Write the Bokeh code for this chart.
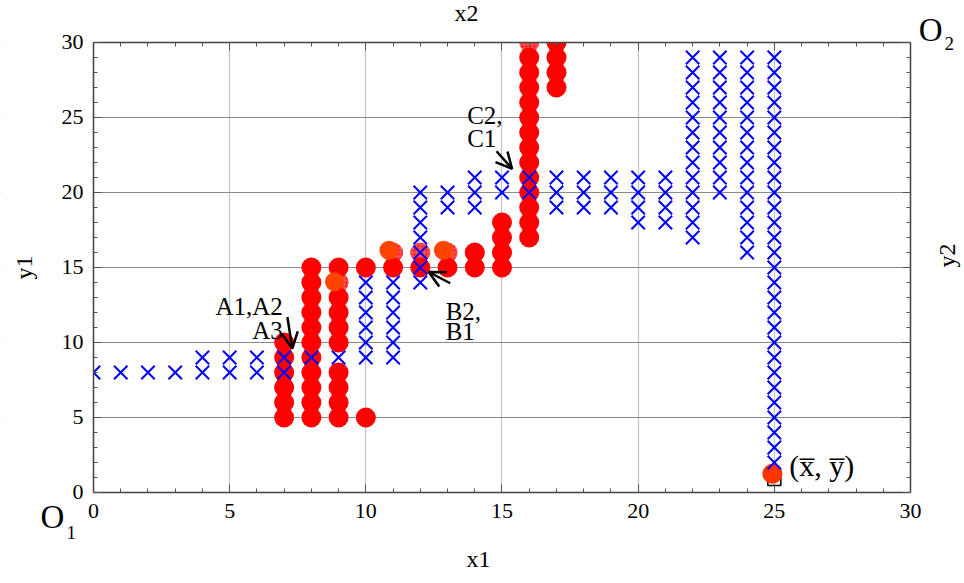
import math
from bokeh.plotting import figure
from bokeh.models import (Range1d, LinearAxis, SingleIntervalTicker, Arrow, OpenHead,
                          Label, CustomJSTickFormatter, Grid, BoxAnnotation)
from bokeh.embed import file_html
from bokeh.resources import INLINE

# ---------------- data ----------------
# blue crosses: one list of y values per x column
blue_cols = [0, 1, 2, 3, 4, 5, 6, 7, 8, 9, 10, 11, 12, 13, 14, 15, 16, 17, 18, 19, 20, 21, 22, 23, 24, 25]
blue_rows = [
    [8], [8], [8], [8], [8, 9], [8, 9], [8, 9], [8, 9], [9], [9],
    [9, 10, 11, 12, 13, 14],
    [9, 10, 11, 12, 13, 14],
    [14, 15, 16, 17, 18, 19, 20],
    [19, 20],
    [19, 20, 21],
    [20, 21],
    [20, 21],
    [19, 20, 21],
    [19, 20, 21],
    [19, 20, 21],
    [18, 19, 20, 21],
    [18, 19, 20, 21],
    [17, 18, 19, 20, 21, 22, 23, 24, 25, 26, 27, 28, 29],
    [20, 21, 22, 23, 24, 25, 26, 27, 28, 29],
    [16, 17, 18, 19, 20, 21, 22, 23, 24, 25, 26, 27, 28, 29],
    [2, 3, 4, 5, 6, 7, 8, 9, 10, 11, 12, 13, 14, 15, 16, 17, 18, 19, 20, 21, 22, 23, 24, 25, 26, 27, 28, 29],
]

# red circles: one list of y values per x column
red_cols = [7, 8, 9, 10, 11, 12, 13, 14, 15, 16, 17]
red_rows = [
    [5, 6, 7, 8, 9, 10],
    [5, 6, 7, 8, 9, 10, 11, 12, 13, 14, 15],
    [5, 6, 7, 8, 10, 11, 12, 13, 15],
    [5, 15],
    [15],
    [15],
    [15],
    [15, 16],
    [15, 16, 17, 18],
    [17, 18, 19, 20, 21, 22, 23, 24, 25, 26, 27, 28, 29],
    [27, 28, 29, 30],
]

# shaded (dithered) red circles
shade_x = [9, 11, 12, 13, 16]
shade_y = [14, 16, 16, 16, 30]

# orange circles
orange_x = [8.85, 10.85, 12.85]
orange_y = [14.05, 16.15, 16.15]

# mean point and its box
mean_x = [24.93]
mean_y = [1.25]
box_x = [25.0]
box_y = [0.9]

AX_MIN, AX_MAX = 0, 30

bx, by = [], []
for c, rows in zip(blue_cols, blue_rows):
    for r in rows:
        bx.append(c)
        by.append(r)
rx, ry = [], []
for c, rows in zip(red_cols, red_rows):
    for r in rows:
        rx.append(c)
        ry.append(r)

SERIF = "Liberation Serif"
W, H = 964, 580

# the plotting frame fills the canvas; the framed box 0..30 sits inside it
p = figure(width=W, height=H, output_backend="svg", toolbar_location=None,
           x_range=Range1d(-3.415, 31.983), y_range=Range1d(-5.867, 32.8),
           x_axis_location=None, y_axis_location=None,
           min_border_left=0, min_border_right=0, min_border_top=0, min_border_bottom=0)
p.background_fill_color = "white"
p.border_fill_color = "white"
p.outline_line_color = None
p.xgrid.grid_line_color = None
p.ygrid.grid_line_color = None

p.add_layout(Grid(dimension=0, ticker=SingleIntervalTicker(interval=5),
                  grid_line_color="#c4c4c4", grid_line_width=1.2))
p.add_layout(Grid(dimension=1, ticker=SingleIntervalTicker(interval=5),
                  grid_line_color="#8a8a8a", grid_line_width=1.2))


def make_axis(side, label, show_labels, label_standoff, major_standoff, loc):
    ax = LinearAxis(ticker=SingleIntervalTicker(interval=5, num_minor_ticks=5),
                    fixed_location=loc, bounds=(AX_MIN, AX_MAX))
    ax.axis_label = label
    ax.axis_label_text_font = SERIF
    ax.axis_label_text_font_size = "24px"
    ax.axis_label_text_font_style = "normal"
    ax.axis_label_text_color = "black"
    ax.axis_label_standoff = label_standoff
    ax.major_label_standoff = major_standoff
    ax.major_label_text_font = SERIF
    ax.major_label_text_font_size = "22px"
    ax.major_label_text_color = "black"
    ax.axis_line_color = "#444444"
    ax.axis_line_width = 1.5
    ax.major_tick_line_color = "#555555"
    ax.minor_tick_line_color = "#555555"
    ax.major_tick_in = 8
    ax.major_tick_out = 0
    ax.minor_tick_in = 4
    ax.minor_tick_out = 0
    if not show_labels:
        ax.formatter = CustomJSTickFormatter(code="return ''")
    p.add_layout(ax, side)
    return ax


make_axis("below", None, True, 22, 12, AX_MIN)
make_axis("left", "y1", True, 22, 10, AX_MIN)
make_axis("above", None, False, 14, 0, AX_MAX)
ax_r = make_axis("right", "y2", False, 36, 0, AX_MAX)
ax_r.axis_label_orientation = math.pi / 2

# marks
p.scatter(box_x, box_y, marker="square", size=13, fill_color=None, line_color="black", line_width=1.5)
p.scatter(rx, ry, marker="circle", size=20, fill_color="#ff0000", line_color=None)
p.scatter(shade_x, shade_y, marker="circle", size=20, fill_color="#ff0000", fill_alpha=0.7,
          line_color=None, hatch_pattern="dot", hatch_color="#ff0000", hatch_scale=4, hatch_alpha=0.9)
p.scatter(orange_x, orange_y, marker="circle", size=19, fill_color="#ff4400", line_color=None)
p.scatter(mean_x, mean_y, marker="circle", size=20, fill_color="#ff3300", line_color=None)
p.scatter(bx, by, marker="x", size=19, line_color="#0000ff", line_width=2)

# white masks outside the framed box (clip marks / grid lines at the box edges)
for kw in [dict(bottom=AX_MAX), dict(top=AX_MIN), dict(right=AX_MIN), dict(left=AX_MAX)]:
    p.add_layout(BoxAnnotation(fill_color="white", fill_alpha=1.0, line_color=None,
                               level="glyph", **kw))

# annotations
def lab(x, y, t, size="25px", align="left"):
    p.add_layout(Label(x=x, y=y, text=t, text_font=SERIF, text_font_size=size,
                       text_baseline="alphabetic", text_align=align, text_color="black"))

# axis titles of the horizontal axes (placed off-centre, as in the original)
lab(14.14, -4.43, "x1", size="24px", align="center")
lab(13.7, 31.97, "x2", size="24px", align="center")

lab(6.95, 12.4, "A1,A2", align="right")
lab(6.95, 10.8, "A3", align="right")
lab(12.93, 12.07, "B2,")
lab(12.93, 10.76, "B1")
lab(13.72, 25.13, "C2,")
lab(13.72, 23.58, "C1")
lab(25.55, 1.8, "(x\u0305, y\u0305)", size="30px")

for (xs, ys, xe, ye) in [(7.12, 11.7, 7.3, 9.6), (13.1, 13.95, 12.31, 14.7), (14.8, 22.75, 15.37, 21.58)]:
    p.add_layout(Arrow(end=OpenHead(size=16, line_width=2.5, line_color="black"),
                       x_start=xs, y_start=ys, x_end=xe, y_end=ye, line_width=2.5, line_color="black"))

# O1 / O2 corner markers
lab(-1.95, -1.65, "O", size="33px")
lab(-0.99, -2.7, "1", size="19px")
lab(30.3, 30.81, "O", size="33px")
lab(31.25, 29.9, "2", size="19px")

open("out.html", "w").write(file_html(p, INLINE))
